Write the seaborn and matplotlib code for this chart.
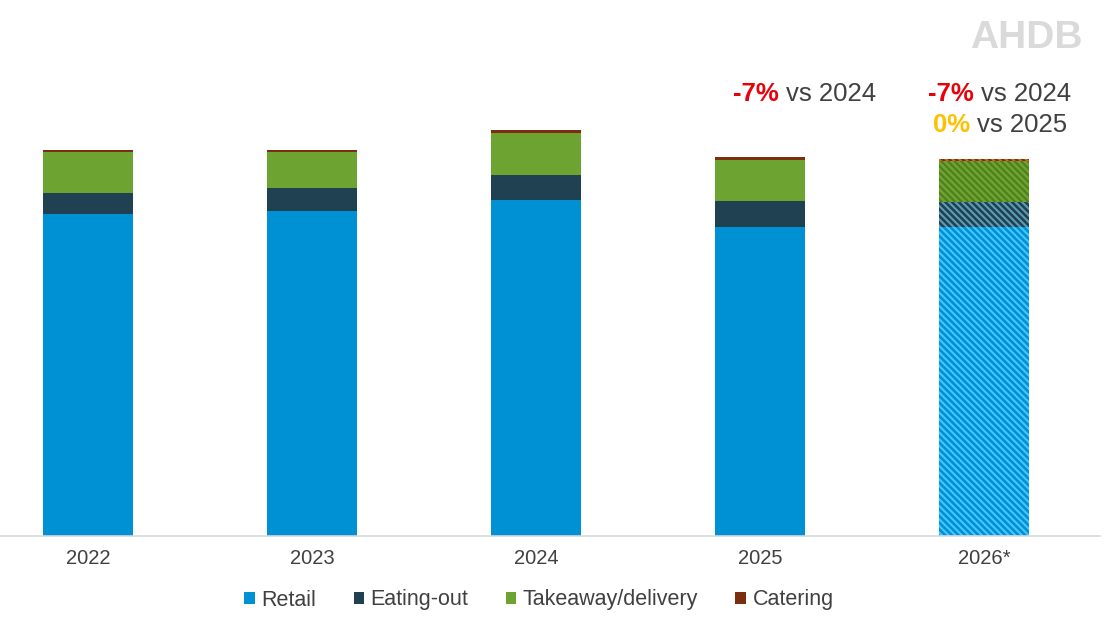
"""
Stacked bars of volume by channel, 2022 to 2026 forecast.
"""
import pandas as pd
import matplotlib.pyplot as plt
import seaborn as sns

# values (arbitrary units, no y axis shown)
years = ['2022', '2023', '2024', '2025', '2026*']
retail = [322, 325, 336, 309, 309]
eating_out = [21, 23, 25, 26, 25]
takeaway = [41, 36, 42, 41, 41]
catering = [2.5, 2.5, 3, 3, 2.5]

channels = ['Retail', 'Eating-out', 'Takeaway/delivery', 'Catering']
colours = ['#0090D4', '#1F4152', '#6DA330', '#7B2E10']
hatch_colours = ['#45C6FF', '#5E9CB6', '#4E7E1C', '#E0642A']


def main():
    sns.set_style('white')
    plt.rcParams['font.family'] = ['Liberation Sans', 'DejaVu Sans']
    plt.rcParams['hatch.linewidth'] = 1.5

    df = pd.DataFrame({'Year': years, 'Retail': retail, 'Eating-out': eating_out,
                       'Takeaway/delivery': takeaway, 'Catering': catering})
    cum = df[channels].cumsum(axis=1)

    fig = plt.figure(figsize=(11.05, 6.31), dpi=100)
    ax = fig.add_axes([0, 95 / 631, 1100 / 1105, 536 / 631])

    # draw cumulative totals, tallest first, so each layer shows as a band
    for name, col, hcol in reversed(list(zip(channels, colours, hatch_colours))):
        n_before = len(ax.patches)
        sns.barplot(x=df['Year'], y=cum[name], color=col, width=0.4,
                    saturation=1, linewidth=0, edgecolor='none', ax=ax)
        bars = ax.patches[n_before:]
        last = bars[-1]  # forecast year gets a hatch
        last.set_hatch('\\\\\\\\\\')
        last.set_edgecolor(hcol)
        last.set_linewidth(0)

    ax.set_xlim(-88 / 224, -88 / 224 + 1100 / 224)
    ax.set_ylim(0, 536)
    ax.set_xlabel('')
    ax.set_ylabel('')
    ax.set_yticks([])
    for side in ['left', 'right', 'top']:
        ax.spines[side].set_visible(False)
    ax.spines['bottom'].set_color('#D9D9D9')
    ax.spines['bottom'].set_linewidth(1.2)
    ax.tick_params(axis='x', length=0, pad=9, labelsize=14.5, labelcolor='#404040')

    # legend with plain squares, no hatch
    handles = [plt.Rectangle((0, 0), 1, 1, facecolor=c, edgecolor='none') for c in colours]
    fig.legend(handles, channels, loc='center', bbox_to_anchor=(539 / 1105, 1 - 600 / 631),
               ncol=4, frameon=False, fontsize=15.5, handlelength=0.5, handleheight=0.5,
               handletextpad=0.3, columnspacing=1.72, labelcolor='#404040')

    # change annotations
    def label(x, y, pct, pct_colour, rest):
        fx, fy = x / 1105, 1 - y / 631
        fig.text(fx, fy, pct, color=pct_colour, fontsize=18.5, fontweight='bold',
                 ha='right', va='baseline')
        fig.text(fx + 7 / 1105, fy, rest, color='#404040', fontsize=18.5,
                 ha='left', va='baseline')

    label(779, 101, '-7%', '#E8000B', 'vs 2024')
    label(974, 101, '-7%', '#E8000B', 'vs 2024')
    label(970, 132, '0%', '#FFC000', 'vs 2025')

    # logo
    fig.text(1083 / 1105, 1 - 48 / 631, 'AHDB', color='#DADADA', fontsize=28,
             fontweight='bold', ha='right', va='baseline')

    fig.savefig('out.png', dpi=100)
    plt.close(fig)


if __name__ == '__main__':
    main()
